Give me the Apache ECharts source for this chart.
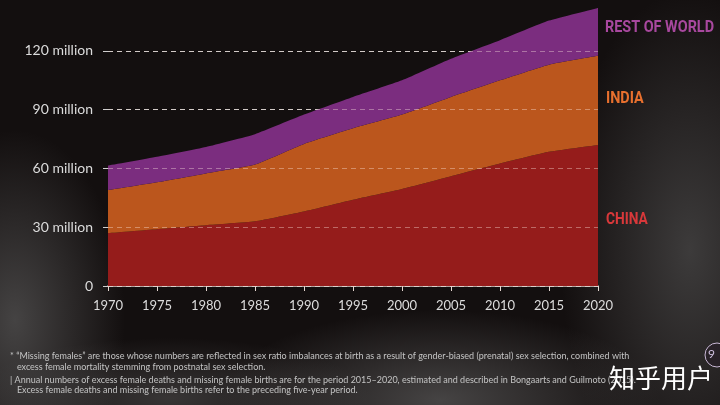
<!DOCTYPE html>
<html>
<head>
<meta charset="utf-8">
<script src="https://cdn.jsdelivr.net/npm/echarts@6/dist/echarts.min.js"></script>
<style>
html,body{margin:0;padding:0;}
body{width:720px;height:405px;overflow:hidden;
background:
 radial-gradient(ellipse 110px 190px at 15px 320px, rgba(110,110,110,0.55), rgba(0,0,0,0) 100%),
 radial-gradient(ellipse 130px 260px at 690px 250px, rgba(95,95,95,0.55), rgba(0,0,0,0) 100%),
 radial-gradient(ellipse 220px 90px at 440px 400px, rgba(120,120,120,0.5), rgba(0,0,0,0) 100%),
 radial-gradient(ellipse 200px 60px at 170px 398px, rgba(110,110,110,0.4), rgba(0,0,0,0) 100%),
 #130f0f;}
#c{width:720px;height:405px;}
</style>
</head>
<body>
<div id="c"></div>
<script>
// ---- data (millions) ----
var years = ['1970','1975','1980','1985','1990','1995','2000','2005','2010','2015','2020'];
var china = [27, 29, 31, 33, 38, 44, 49.5, 56, 62.5, 68.5, 72];
var india = [22, 24, 26.5, 29, 34.5, 36.5, 38, 40.5, 42.5, 44.5, 45.5];
var restOfWorld = [12.5, 13, 13.5, 15.5, 15, 16, 17.5, 19.5, 20.5, 22.5, 24.5];
var yTicks = [30, 60, 90, 120];
var seriesNames = ['CHINA', 'INDIA', 'REST OF WORLD'];
var footnotes = [
  '* \u201cMissing females\u201d are those whose numbers are reflected in sex ratio imbalances at birth as a result of gender-biased (prenatal) sex selection, combined with',
  '   excess female mortality stemming from postnatal sex selection.',
  '| Annual numbers of excess female deaths and missing female births are for the period 2015\u20132020, estimated and described in Bongaarts and Guilmoto (2015).',
  '   Excess female deaths and missing female births refer to the preceding five-year period.'
];

var colors = ['#951c1b', '#bb561d', '#7b2d7f'];
var labelColors = ['#d8383a', '#e8702e', '#a8489e'];

var chart = echarts.init(document.getElementById('c'));

function areaSeries(name, data, color, extra) {
  var s = {
    name: name, type: 'line', stack: 'total', data: data,
    symbol: 'none', smooth: 0.15,
    lineStyle: { width: 0 },
    areaStyle: { color: color, opacity: 1 },
    itemStyle: { color: color }
  };
  if (extra) for (var k in extra) s[k] = extra[k];
  return s;
}

var labelFont = 'bold 16px Roboto, sans-serif';
var noteFont = '9px Lato, sans-serif';

var option = {
  backgroundColor: 'transparent',
  animation: false,
  grid: { left: 108, right: 122, top: 2, bottom: 119 },
  xAxis: {
    type: 'category', boundaryGap: false, data: years,
    axisLine: { show: true, lineStyle: { color: '#e6d6d0', width: 1.5 } },
    axisTick: { show: true, length: 5, alignWithLabel: true, lineStyle: { color: '#e6d6d0' } },
    axisLabel: { color: '#dcdcdc', fontSize: 13, fontFamily: 'Lato', margin: 13 },
    splitLine: { show: false }
  },
  yAxis: {
    type: 'value', min: 0, max: 145, interval: 30,
    axisLine: { show: false },
    axisTick: { show: true, length: 5, lineStyle: { color: '#cfcfcf' } },
    axisLabel: {
      color: '#dcdcdc', fontSize: 14, fontFamily: 'Lato', margin: 15, showMaxLabel: false,
      formatter: function (v) { return v === 0 ? '0' : (v % 30 === 0 ? v + ' million' : ''); }
    },
    splitLine: { show: true, showMaxLine: false, lineStyle: { color: '#b8b8b8', type: [5, 4], width: 1 } }
  },
  series: [
    areaSeries(seriesNames[0], china, colors[0]),
    areaSeries(seriesNames[1], india, colors[1]),
    areaSeries(seriesNames[2], restOfWorld, colors[2], {
      markLine: {
        silent: true, symbol: 'none', label: { show: false },
        lineStyle: { color: 'rgba(255,235,225,0.38)', type: [5, 4], width: 1 },
        data: yTicks.map(function (v) { return { yAxis: v }; }),
        z: 10
      }
    })
  ],
  graphic: [
    { type: 'text', x: 605, y: 20, scaleX: 0.9, style: { text: seriesNames[2], fill: labelColors[2], font: labelFont } },
    { type: 'text', x: 606, y: 91, scaleX: 0.9, style: { text: seriesNames[1], fill: labelColors[1], font: labelFont } },
    { type: 'text', x: 606, y: 212, scaleX: 0.86, style: { text: seriesNames[0], fill: labelColors[0], font: labelFont } },
    { type: 'text', left: 10, top: 352, style: { text: footnotes[0], fill: '#c4c4c4', font: noteFont } },
    { type: 'text', left: 10, top: 363, style: { text: footnotes[1], fill: '#c4c4c4', font: noteFont } },
    { type: 'text', left: 10, top: 376, style: { text: footnotes[2], fill: '#c4c4c4', font: noteFont } },
    { type: 'text', left: 10, top: 386, style: { text: footnotes[3], fill: '#c4c4c4', font: noteFont } },
    { type: 'circle', shape: { cx: 717, cy: 355, r: 12 }, style: { fill: 'rgba(40,30,40,0.6)', stroke: '#c9b8d6', lineWidth: 1 } },
    { type: 'text', left: 708, top: 348, style: { text: '9', fill: '#d0c0e0', font: '12px Lato' } },
    { type: 'text', left: 609, top: 365, z: 100, style: { text: '\u77e5\u4e4e\u7528\u6237', fill: '#ffffff', font: '26px "Noto Sans CJK SC"', shadowColor: 'rgba(0,0,0,0.5)', shadowBlur: 3 } }
  ]
};
chart.setOption(option);
</script>
</body>
</html>
